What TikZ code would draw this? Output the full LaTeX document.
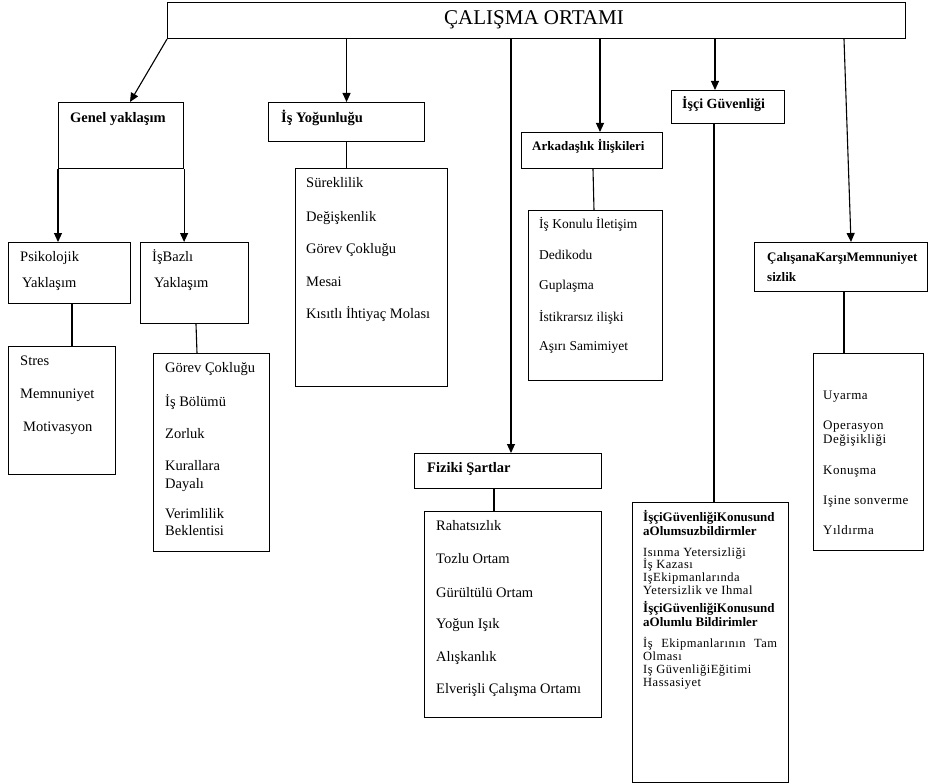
\documentclass[tikz,border=0pt]{standalone}
\usepackage{fontspec}
\setmainfont{Liberation Serif}
\newfontfamily\spfont[LetterSpace=4]{Liberation Serif}
\usetikzlibrary{arrows.meta}
\begin{document}
\begin{tikzpicture}[x=1pt,y=-1pt,
  box/.style={draw, line width=1.1pt, inner sep=0pt, anchor=north west},
  arr/.style={line width=1.1pt, -{Triangle[length=9pt,width=8pt]}},
  ln/.style={line width=1.1pt},
  itm/.style={anchor=base west, inner sep=0pt, font=\fontsize{14.5}{16}\selectfont},
  hd/.style={itm, font=\fontsize{14.5}{16}\selectfont\bfseries},
  hds/.style={itm, font=\fontsize{13}{14}\selectfont\bfseries},
  sm/.style={itm, font=\fontsize{13.5}{15}\selectfont},
  spc/.style={itm, font=\spfont\fontsize{13}{14}\selectfont},
  tiny/.style={itm, font=\spfont\fontsize{12.5}{13}\selectfont}]
\useasboundingbox (0,0) rectangle (930,784);

% boxes
\node[box, minimum width=738pt, minimum height=36pt] (main) at (167,2) {};
\node[anchor=base, inner sep=0pt, font=\fontsize{21}{24}\selectfont] (title) at (534,25) {ÇALIŞMA ORTAMI};
\node[box, minimum width=125pt, minimum height=66pt] (gen) at (58,102) {};
\node[box, minimum width=122pt, minimum height=61pt] (psi) at (8,242) {};
\node[box, minimum width=108pt, minimum height=81pt] (isb) at (140,242) {};
\node[box, minimum width=107pt, minimum height=128pt] (str) at (8,346) {};
\node[box, minimum width=116pt, minimum height=198pt] (gor) at (153,353) {};
\node[box, minimum width=156pt, minimum height=39pt] (yog) at (268,102) {};
\node[box, minimum width=152pt, minimum height=218pt] (sur) at (295,168) {};
\node[box, minimum width=141pt, minimum height=36pt] (ark) at (521,132) {};
\node[box, minimum width=134pt, minimum height=170pt] (kon) at (528,210) {};
\node[box, minimum width=113pt, minimum height=33pt] (isc) at (671,90) {};
\node[box, minimum width=173pt, minimum height=49pt] (cal) at (754,242) {};
\node[box, minimum width=110pt, minimum height=197pt] (uya) at (813,353) {};
\node[box, minimum width=187pt, minimum height=35pt] (fiz) at (414,453) {};
\node[box, minimum width=177pt, minimum height=206pt] (rah) at (424,511) {};
\node[box, minimum width=156pt, minimum height=280pt] (gue) at (632,502) {};

% arrows from the main box
\draw[arr] (main.south west) -- (gen.north -| 130,0);
\draw[arr] (main.south -| yog.north) -- (yog.north);
\draw[arr] (main.south -| 511,0) -- (fiz.north -| 511,0);
\draw[arr] (main.south -| 600,0) -- (ark.north -| 600,0);
\draw[arr] (main.south -| 715,0) -- (isc.north -| 715,0);
\draw[arr] (main.south -| 844,0) -- (cal.north -| 851,0);
\draw[arr] (gen.south west) -- (psi.north -| gen.south west);
\draw[arr] (gen.south east) -- (isb.north -| gen.south east);

% plain connectors
\draw[ln] (psi.south -| 72,0) -- (str.north -| 72,0);
\draw[ln] (isb.south -| 196,0) -- (gor.north -| 197,0);
\draw[ln] (yog.south) -- (sur.north -| yog.south);
\draw[ln] (ark.south -| 593,0) -- (kon.north -| 594,0);
\draw[ln] (fiz.south -| 494,0) -- (rah.north -| 494,0);
\draw[ln] (isc.south -| 714,0) -- (gue.north -| 714,0);
\draw[ln] (cal.south -| 844,0) -- (uya.north -| 844,0);

% texts
\node[hd] (gen-t) at (70,122) {Genel yaklaşım};
\node[itm] (psi-1) at (20,261) {Psikolojik};
\node[itm] (psi-2) at (22,287) {Yaklaşım};
\node[itm] (isb-1) at (152,261) {İşBazlı};
\node[itm] (isb-2) at (154,287) {Yaklaşım};
\node[itm] (str-1) at (20,365) {Stres};
\node[itm] (str-2) at (20,398) {Memnuniyet};
\node[itm] (str-3) at (23,431) {Motivasyon};
\foreach \yy/\t [count=\i] in {372/Görev Çokluğu, 406/İş Bölümü, 438/Zorluk, 470/Kurallara, 488/Dayalı, 518/Verimlilik, 535/Beklentisi}
  \node[itm] (gor-\i) at (165,\yy) {\t};
\node[hd] (yog-t) at (281,122) {İş Yoğunluğu};
\foreach \yy/\t [count=\i] in {187/Süreklilik, 221/Değişkenlik, 253/Görev Çokluğu, 286/Mesai, 318/Kısıtlı İhtiyaç Molası}
  \node[itm] (sur-\i) at (306,\yy) {\t};
\node[hds] (ark-t) at (532,150.5) {Arkadaşlık İlişkileri};
\foreach \yy/\t [count=\i] in {228.5/İş Konulu İletişim, 259.5/Dedikodu, 289.5/Guplaşma, 321.5/İstikrarsız ilişki, 350.5/Aşırı Samimiyet}
  \node[sm] (kon-\i) at (539,\yy) {\t};
\node[itm, font=\fontsize{14}{15}\selectfont\bfseries] (isc-t) at (682,108.5) {İşçi Güvenliği};
\node[hds] (cal-1) at (767,261.5) {ÇalışanaKarşıMemnuniyet};
\node[hds] (cal-2) at (767,281.5) {sizlik};
\foreach \yy/\t [count=\i] in {399.5/Uyarma, 429.5/Operasyon, 443.5/Değişikliği, 474.5/Konuşma, 504.5/Işine sonverme, 534.5/Yıldırma}
  \node[spc] (uya-\i) at (823,\yy) {\t};
\node[hd] (fiz-t) at (427,472) {Fiziki Şartlar};
\foreach \yy/\t [count=\i] in {530/Rahatsızlık, 563/Tozlu Ortam, 597/Gürültülü Ortam, 628/Yoğun Işık, 661/Alışkanlık, 693/Elverişli Çalışma Ortamı}
  \node[itm] (rah-\i) at (436,\yy) {\t};
\node[hds] (gue-1) at (643,521.5) {İşçiGüvenliğiKonusund};
\node[hds] (gue-2) at (643,535.5) {aOlumsuzbildirmler};
\foreach \yy/\t [count=\i] in {556/Isınma Yetersizliği, 568/İş Kazası, 581/IşEkipmanlarında, 594/Yetersizlik ve Ihmal}
  \node[tiny] (gue-a\i) at (643,\yy) {\t};
\node[hds] (gue-3) at (643,612.5) {İşçiGüvenliğiKonusund};
\node[hds] (gue-4) at (643,626.5) {aOlumlu Bildirimler};
\node[tiny] (gue-b1) at (643,647) {\makebox[134pt][s]{İş\hfill Ekipmanlarının\hfill Tam}};
\foreach \yy/\t [count=\i] in {660/Olması, 673/Iş GüvenliğiEğitimi, 686/Hassasiyet}
  \node[tiny] (gue-c\i) at (643,\yy) {\t};
\end{tikzpicture}
\end{document}
